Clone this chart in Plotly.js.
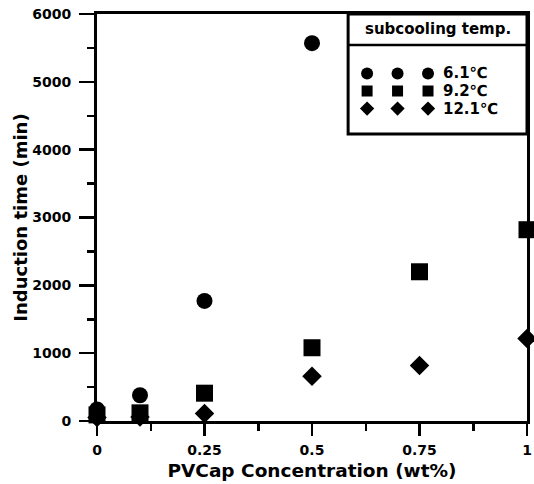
<!DOCTYPE html>
<html>
<head>
<meta charset="utf-8">
<script src="https://cdn.plot.ly/plotly-3.0.1.min.js"></script>
<style>
html,body{margin:0;padding:0;background:#fff;}
#chart{width:534px;height:484px;}
</style>
</head>
<body>
<div id="chart"></div>
<script>
// Data
var concentration = [0, 0.1, 0.25, 0.5, 0.75, 1];
var t61 = [170, 380, 1770, 5570];            // 6.1 C (x: 0, 0.1, 0.25, 0.5)
var x61 = [0, 0.1, 0.25, 0.5];
var t92 = [90, 120, 410, 1080, 2200, 2820];  // 9.2 C
var t121 = [50, 60, 110, 660, 820, 1215];    // 12.1 C
var seriesNames = ['6.1\u2103', '9.2\u2103', '12.1\u2103'];
var xTickVals = [0, 0.25, 0.5, 0.75, 1];
var xTickText = ['0', '0.25', '0.5', '0.75', '1'];
var legendTitle = 'subcooling temp.';
var legendSlots = [1, 2, 3];
var legendRows = [1, 2, 3];

var FONT = 'DejaVu Sans, Arial, sans-serif';
var symbols = ['circle', 'square', 'diamond'];
var sizes = [16, 17, 15];
var legSizes = [12, 11, 11];

var traces = [
  {x: x61, y: t61, mode: 'markers', type: 'scatter', cliponaxis: false,
   marker: {symbol: 'circle', size: sizes[0], color: '#000'}, showlegend: false},
  {x: concentration, y: t92, mode: 'markers', type: 'scatter', cliponaxis: false,
   marker: {symbol: 'square', size: sizes[1], color: '#000'}, showlegend: false},
  {x: concentration, y: t121, mode: 'markers', type: 'scatter', cliponaxis: false,
   marker: {symbol: 'diamond', size: sizes[2], color: '#000'}, showlegend: false}
];
// Legend symbols (three per row) on a hidden axis pair
for (var i = 0; i < 3; i++) {
  traces.push({
    x: legendSlots, y: legendSlots.map(function(){return legendRows[i];}),
    xaxis: 'x2', yaxis: 'y2', mode: 'markers', type: 'scatter', cliponaxis: false,
    marker: {symbol: symbols[i], size: legSizes[i], color: '#000'}, showlegend: false,
    hoverinfo: 'skip'
  });
}

var annotations = [];
for (var j = 0; j < 3; j++) {
  annotations.push({
    xref: 'x2', yref: 'y2', x: 3.42, y: legendRows[j], text: seriesNames[j],
    showarrow: false, xanchor: 'left', yanchor: 'middle',
    font: {family: FONT, size: 15, color: '#000', weight: 'bold'}
  });
}
annotations.push({
  xref: 'paper', yref: 'paper', x: 0.792, y: 0.962, text: legendTitle,
  showarrow: false, xanchor: 'center', yanchor: 'middle',
  font: {family: FONT, size: 15, color: '#000', weight: 'bold'}
});

var layout = {
  width: 534, height: 484,
  margin: {l: 97, r: 7, t: 14, b: 63.3, pad: 0},
  paper_bgcolor: '#fff', plot_bgcolor: '#fff',
  showlegend: false,
  font: {family: FONT, color: '#000'},
  xaxis: {
    range: [0, 1], tickvals: xTickVals, ticktext: xTickText,
    ticks: 'outside', ticklen: 12, tickwidth: 2.5, tickcolor: '#000',
    minor: {tickvals: [0.125, 0.375, 0.625, 0.875], ticks: 'outside', ticklen: 7, tickwidth: 2.5, tickcolor: '#000'},
    showline: true, linewidth: 3, linecolor: '#000', mirror: true,
    showgrid: false, zeroline: false, ticklabelstandoff: 2,
    tickfont: {family: FONT, size: 14, color: '#000', weight: 'bold'},
    title: {text: 'PVCap Concentration (wt%)', standoff: 8,
            font: {family: FONT, size: 18.5, color: '#000', weight: 'bold'}}
  },
  yaxis: {
    range: [0, 6000], dtick: 1000, tick0: 0,
    ticks: 'outside', ticklen: 15, tickwidth: 2.5, tickcolor: '#000',
    minor: {dtick: 500, ticks: 'outside', ticklen: 7, tickwidth: 2.5, tickcolor: '#000'},
    showline: true, linewidth: 3, linecolor: '#000', mirror: true,
    showgrid: false, zeroline: false, ticklabelstandoff: 5,
    tickfont: {family: FONT, size: 14, color: '#000', weight: 'bold'},
    title: {text: 'Induction time (min)', standoff: 0,
            font: {family: FONT, size: 18, color: '#000', weight: 'bold'}}
  },
  xaxis2: {domain: [0.584, 1], range: [0.377, 6.25], anchor: 'y2',
           visible: false, fixedrange: true},
  yaxis2: {domain: [0.705, 0.924], range: [4.457, -0.629], anchor: 'x2',
           visible: false, fixedrange: true},
  shapes: [
    {type: 'rect', xref: 'paper', yref: 'paper', x0: 0.584, x1: 1, y0: 0.705, y1: 1,
     line: {color: '#000', width: 3}, fillcolor: 'rgba(0,0,0,0)', layer: 'above'},
    {type: 'line', xref: 'paper', yref: 'paper', x0: 0.584, x1: 1, y0: 0.924, y1: 0.924,
     line: {color: '#000', width: 2.5}, layer: 'above'}
  ],
  annotations: annotations
};

Plotly.newPlot('chart', traces, layout, {displayModeBar: false, staticPlot: true});
</script>
</body>
</html>
